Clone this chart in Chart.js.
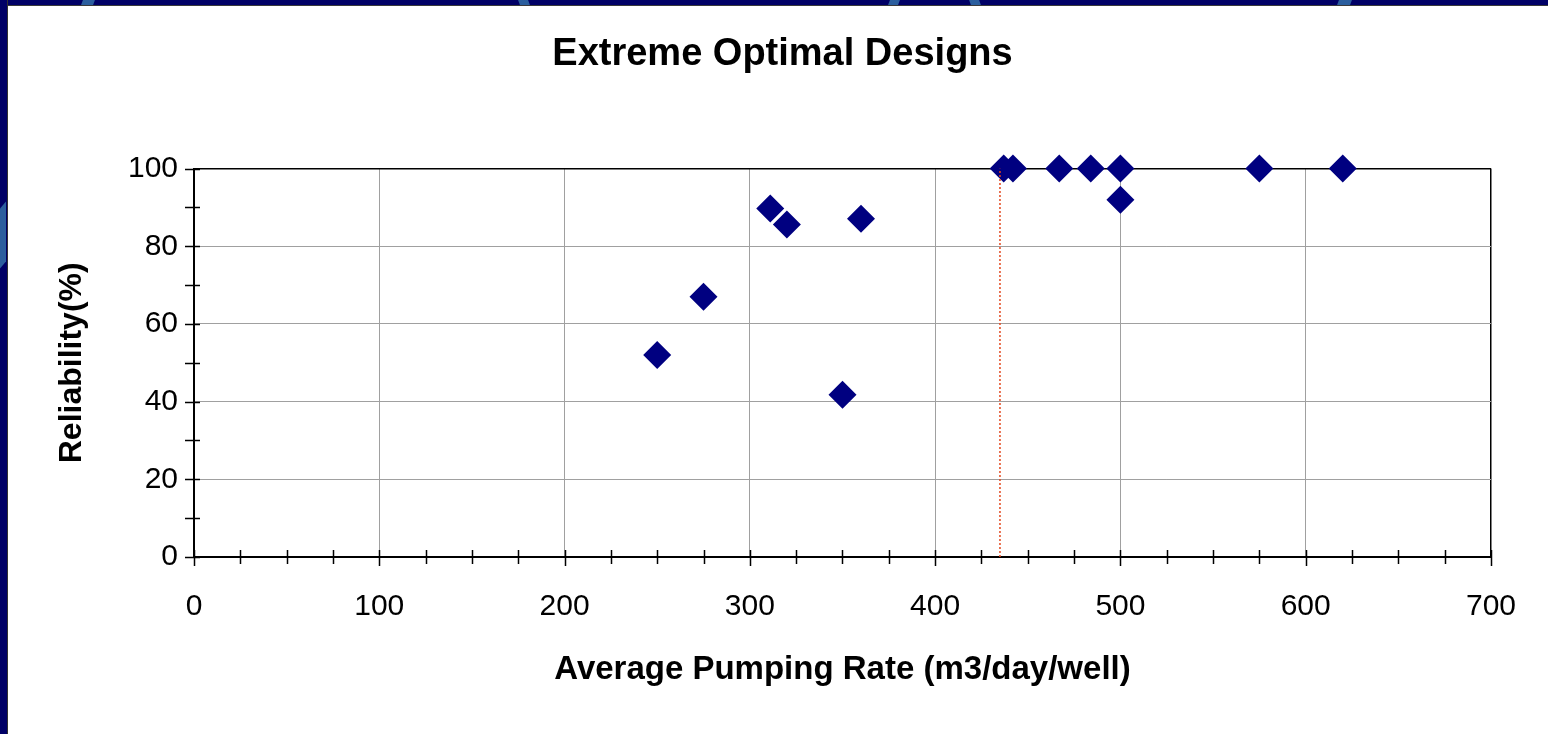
<!DOCTYPE html>
<html>
<head>
<meta charset="utf-8">
<title>Extreme Optimal Designs</title>
<script src="https://cdn.jsdelivr.net/npm/chart.js@4.4.1/dist/chart.umd.min.js"></script>
<style>
  html, body { margin: 0; padding: 0; background: #fff; overflow: hidden; }
  #wrap { position: relative; width: 1548px; height: 734px; }
  #chart { position: absolute; left: 0; top: 0; }
  .bar { position: absolute; background: #000066; z-index: 2; }
  #topBar { left: 0; top: 0; width: 1548px; height: 5px; border-bottom: 1px solid #3a3a3a; }
  #leftBar { left: 0; top: 0; width: 7px; height: 734px; border-right: 1px solid #333; }
  .arc { position: absolute; background: #2b5e9e; z-index: 3; }
</style>
</head>
<body>
<div id="wrap">
  <canvas id="chart" width="1548" height="734"></canvas>
  <div class="bar" id="topBar"></div>
  <div class="bar" id="leftBar"></div>
  <div class="arc" style="left:82px;top:0;width:12px;height:5px;transform:skewX(-20deg)"></div>
  <div class="arc" style="left:519px;top:0;width:10px;height:5px;transform:skewX(20deg)"></div>
  <div class="arc" style="left:889px;top:0;width:10px;height:5px;transform:skewX(-20deg)"></div>
  <div class="arc" style="left:970px;top:0;width:10px;height:5px;transform:skewX(20deg)"></div>
  <div class="arc" style="left:1338px;top:0;width:13px;height:5px;transform:skewX(-20deg)"></div>
  <div class="arc" style="left:0;top:205px;width:6px;height:60px;transform:skewY(-50deg)"></div>
</div>
<script>
// average pumping rate (m3/day/well) and reliability (%) of each design
const pumpingRate = [250, 275, 311, 320, 350, 360, 437, 442, 467, 484, 500, 500, 575, 620];
const reliability = [52, 67, 89.7, 85.6, 41.8, 87.1, 100, 100, 100, 100, 100, 92, 100, 100];

// red dotted marker line
const markerRate = 435;
const markerSpan = [0, 100];

const xTicks = { min: 0, max: 700, step: 100, minor: 25 };
const yTicks = { min: 0, max: 100, step: 20, minor: 10 };

const navy = '#000080';
const gridGray = '#a0a0a0';
const fontFamily = 'Liberation Sans, Arial, sans-serif';

// excel style tick marks that cross the axis line
const crossTicks = {
  id: 'crossTicks',
  afterDatasetsDraw(chart) {
    const { ctx, scales: { x, y } } = chart;
    const x0 = x.getPixelForValue(xTicks.min);
    const y0 = y.getPixelForValue(yTicks.min);
    ctx.save();
    ctx.strokeStyle = '#000';
    ctx.lineWidth = 1.5;
    ctx.beginPath();
    for (let v = xTicks.min; v <= xTicks.max; v += xTicks.minor) {
      const px = Math.round(x.getPixelForValue(v)) + 0.5;
      ctx.moveTo(px, y0 - 7);
      ctx.lineTo(px, y0 + (v % xTicks.step === 0 ? 9 : 7));
    }
    for (let v = yTicks.min; v <= yTicks.max; v += yTicks.minor) {
      const py = Math.round(y.getPixelForValue(v)) + 0.5;
      ctx.moveTo(x0 - 9, py);
      ctx.lineTo(x0 + 6, py);
    }
    ctx.stroke();
    ctx.restore();
  }
};

// title is centred on the slide area, not on the plot
const shiftTitle = {
  id: 'shiftTitle',
  afterLayout(chart) {
    if (chart.titleBlock) {
      chart.titleBlock.left = 17;
      chart.titleBlock.right = 1548;
    }
  }
};

const points = pumpingRate.map((r, i) => ({ x: r, y: reliability[i] }));

new Chart(document.getElementById('chart'), {
  type: 'scatter',
  data: {
    datasets: [{
      label: 'Marker',
      type: 'line',
      data: markerSpan.map(v => ({ x: markerRate, y: v })),
      borderColor: '#e2461c',
      borderWidth: 1.5,
      borderDash: [2, 2],
      pointRadius: 0,
      showLine: true,
      order: 0
    }, {
      label: 'Designs',
      data: points,
      pointStyle: 'rectRot',
      pointRadius: 14,
      pointHoverRadius: 14,
      backgroundColor: navy,
      borderColor: navy,
      borderWidth: 0,
      clip: false,
      order: 1
    }]
  },
  options: {
    responsive: false,
    animation: false,
    events: [],
    layout: { padding: { left: 0, top: 0, right: 57, bottom: 0 } },
    plugins: {
      legend: { display: false },
      tooltip: { enabled: false },
      title: {
        display: true,
        text: 'Extreme Optimal Designs',
        color: '#000',
        font: { family: fontFamily, size: 38, weight: 'bold' },
        padding: { top: 32, bottom: 91 }
      }
    },
    scales: {
      x: {
        type: 'linear',
        min: xTicks.min,
        max: xTicks.max,
        afterFit(scale) { scale.height = 177; },
        ticks: {
          stepSize: xTicks.step,
          padding: 32,
          color: '#000',
          font: { family: fontFamily, size: 30 }
        },
        grid: {
          drawTicks: false,
          color: ctx => ctx.tick && ctx.tick.value === xTicks.max ? '#000' : gridGray,
          lineWidth: ctx => ctx.tick && ctx.tick.value === xTicks.max ? 1.5 : 1
        },
        border: { color: '#000', width: 2 },
        title: {
          display: true,
          text: 'Average Pumping Rate (m3/day/well)',
          color: '#000',
          font: { family: fontFamily, size: 33, weight: 'bold' },
          padding: { top: 0, bottom: 44 }
        }
      },
      y: {
        type: 'linear',
        min: yTicks.min,
        max: yTicks.max,
        afterFit(scale) { scale.width = 194; },
        ticks: {
          stepSize: yTicks.step,
          padding: 16,
          color: '#000',
          font: { family: fontFamily, size: 30 }
        },
        grid: {
          drawTicks: false,
          color: ctx => ctx.tick && ctx.tick.value === yTicks.max ? '#000' : gridGray,
          lineWidth: ctx => ctx.tick && ctx.tick.value === yTicks.max ? 1.5 : 1
        },
        border: { color: '#000', width: 2 },
        title: {
          display: true,
          text: 'Reliability(%)',
          color: '#000',
          font: { family: fontFamily, size: 32, weight: 'bold' },
          padding: { top: 53, bottom: 0 }
        }
      }
    }
  },
  plugins: [crossTicks, shiftTitle]
});
</script>
</body>
</html>
